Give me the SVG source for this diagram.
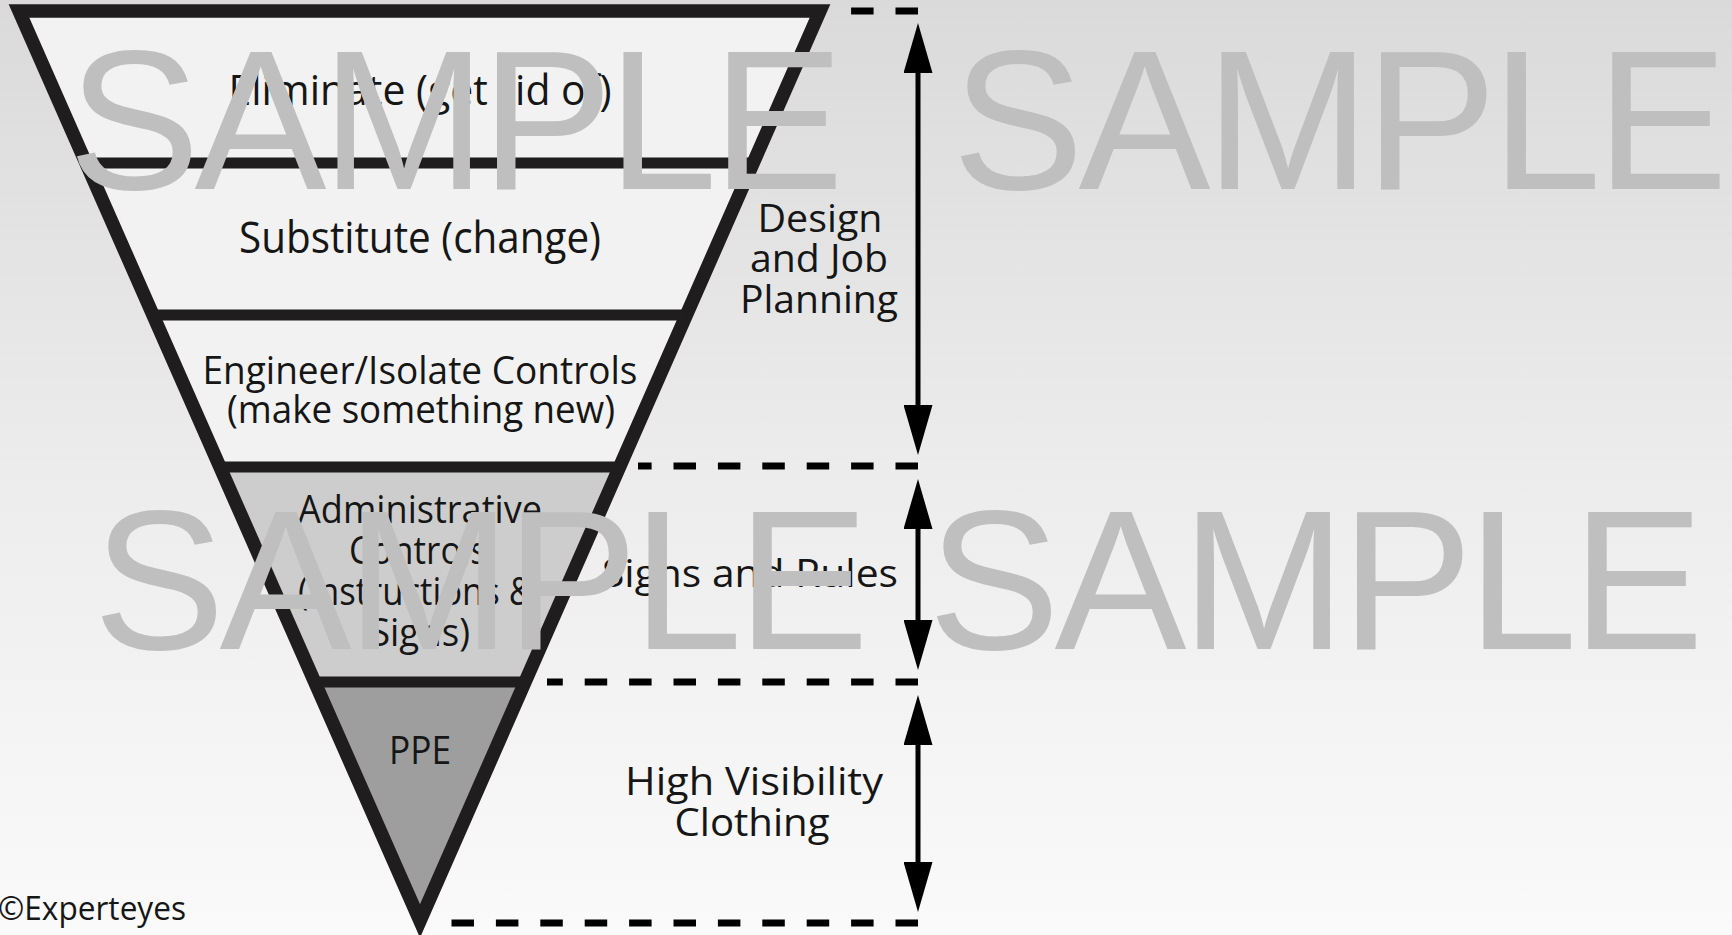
<svg xmlns="http://www.w3.org/2000/svg" width="1732" height="935" viewBox="0 0 1732 935">
  <defs>
    <linearGradient id="bg" x1="0" y1="0" x2="0" y2="1">
      <stop offset="0" stop-color="#dadada"/>
      <stop offset="0.5" stop-color="#ececec"/>
      <stop offset="1" stop-color="#fafafa"/>
    </linearGradient>
    <marker id="ah" viewBox="0 0 50 29" refX="1" refY="14.5" markerWidth="50" markerHeight="29" markerUnits="userSpaceOnUse" orient="auto-start-reverse">
      <path d="M0,0 L50,14.5 L0,29 z" fill="#000"/>
    </marker>
    <style>
      .lbl { font-family: "Open Sans", "Noto Sans", "DejaVu Sans", sans-serif; fill: #161616; text-anchor: middle; }
      .frame { fill: none; stroke: #1f1d1d; stroke-linejoin: miter; }
      .div { stroke: #1f1d1d; stroke-width: 11; }
      .dash { stroke: #000; stroke-width: 7; stroke-dasharray: 22.5 21.9; fill: none; }
      .shaft { stroke: #000; stroke-width: 5; fill: none; marker-start: url(#ah); marker-end: url(#ah); }
      .wm { font-family: "Liberation Sans", Arial, sans-serif; font-size: 198px; fill: #bfbfbf; }
    </style>
  </defs>

  <rect x="0" y="0" width="1732" height="935" fill="url(#bg)"/>

  <g id="node-eliminate">
    <polygon points="19,11 820,11 753.2,163 86,163" fill="#f2f2f2"/>
    <text class="lbl" x="420" y="105" font-size="42" textLength="383" lengthAdjust="spacingAndGlyphs">Eliminate (get rid of)</text>
  </g>
  <g id="node-substitute">
    <polygon points="86,163 753.2,163 686.4,315 153,315" fill="#f2f2f2"/>
    <text class="lbl" x="420" y="253" font-size="43" textLength="362" lengthAdjust="spacingAndGlyphs">Substitute (change)</text>
  </g>
  <g id="node-engineer">
    <polygon points="153,315 686.4,315 619.5,467 220,467" fill="#f2f2f2"/>
    <text class="lbl" x="420" y="384" font-size="39" textLength="435" lengthAdjust="spacingAndGlyphs">Engineer/Isolate Controls</text>
    <text class="lbl" x="421" y="423" font-size="39" textLength="388" lengthAdjust="spacingAndGlyphs">(make something new)</text>
  </g>
  <g id="node-admin">
    <polygon points="220,467 619.5,467 525,682 314.7,682" fill="#cdcdcd"/>
    <text class="lbl" x="420" y="523" font-size="39" textLength="244" lengthAdjust="spacingAndGlyphs">Administrative</text>
    <text class="lbl" x="418" y="564" font-size="39" textLength="138" lengthAdjust="spacingAndGlyphs">Controls</text>
    <text class="lbl" x="416" y="605" font-size="39" textLength="236" lengthAdjust="spacingAndGlyphs">(Instructions &amp;</text>
    <text class="lbl" x="420" y="646" font-size="39" textLength="100" lengthAdjust="spacingAndGlyphs">Signs)</text>
  </g>
  <g id="node-ppe">
    <polygon points="314.7,682 525,682 420,921" fill="#9e9e9e"/>
    <text class="lbl" x="420" y="764" font-size="39" textLength="62" lengthAdjust="spacingAndGlyphs">PPE</text>
  </g>

  <g id="frame">
    <polygon class="frame" points="19,11 820,11 420,921" stroke-width="13.5"/>
    <line class="div" x1="86" y1="163" x2="753.2" y2="163"/>
    <line class="div" x1="153" y1="315" x2="686.4" y2="315"/>
    <line class="div" x1="220" y1="467" x2="619.5" y2="467"/>
    <line class="div" x1="314.7" y1="682" x2="525" y2="682"/>
  </g>

  <g id="node-design">
    <text class="lbl" x="820" y="232" font-size="39" textLength="125" lengthAdjust="spacingAndGlyphs">Design</text>
    <text class="lbl" x="819" y="272" font-size="39" textLength="138" lengthAdjust="spacingAndGlyphs">and Job</text>
    <text class="lbl" x="819" y="313" font-size="39" textLength="158" lengthAdjust="spacingAndGlyphs">Planning</text>
  </g>
  <g id="node-signs">
    <text class="lbl" x="750" y="587" font-size="39" textLength="296" lengthAdjust="spacingAndGlyphs">Signs and Rules</text>
  </g>
  <g id="node-hiviz">
    <text class="lbl" x="754" y="795" font-size="39" textLength="258" lengthAdjust="spacingAndGlyphs">High Visibility</text>
    <text class="lbl" x="752" y="836" font-size="39" textLength="155" lengthAdjust="spacingAndGlyphs">Clothing</text>
  </g>

  <g id="connectors">
    <line class="dash" x1="918" y1="11" x2="851" y2="11"/>
    <line class="dash" x1="918" y1="466" x2="638" y2="466"/>
    <line class="dash" x1="918" y1="682" x2="547" y2="682"/>
    <line class="dash" x1="918" y1="923" x2="451" y2="923"/>
    <line class="shaft" x1="918" y1="72" x2="918" y2="406"/>
    <line class="shaft" x1="918" y1="528" x2="918" y2="621"/>
    <line class="shaft" x1="918" y1="744" x2="918" y2="863"/>
  </g>

  <g id="credit">
    <text x="-2" y="920" font-family="Open Sans, Noto Sans, sans-serif" font-size="33" fill="#161616" textLength="188" lengthAdjust="spacingAndGlyphs">©Experteyes</text>
  </g>

  <g id="watermark">
    <text class="wm" x="68" y="189" textLength="776" lengthAdjust="spacing">SAMPLE</text>
    <text class="wm" x="952" y="189" textLength="776" lengthAdjust="spacing">SAMPLE</text>
    <text class="wm" x="93" y="649" textLength="776" lengthAdjust="spacing">SAMPLE</text>
    <text class="wm" x="928" y="649" textLength="776" lengthAdjust="spacing">SAMPLE</text>
  </g>
</svg>
